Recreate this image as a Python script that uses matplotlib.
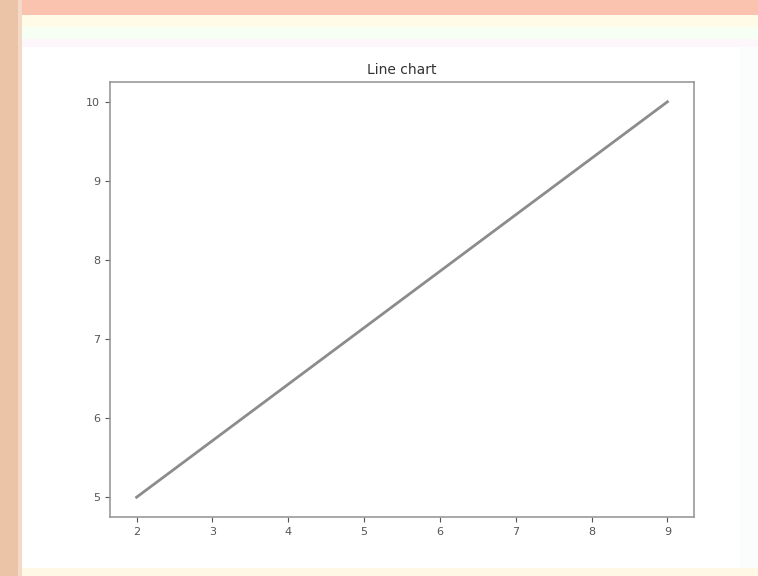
import matplotlib
matplotlib.use("Agg")
import matplotlib.pyplot as plt
from matplotlib.patches import Rectangle

# Data
x_values = [2, 9]
y_values = [5, 10]
x_ticks = [2, 3, 4, 5, 6, 7, 8, 9]
y_ticks = [5, 6, 7, 8, 9, 10]
title_text = "Line chart"

fig = plt.figure(figsize=(7.58, 5.76), dpi=100)
fig.patch.set_facecolor("white")

W, H = 758, 576
def px_rect(x0, y0, w, h, color, alpha=1.0):
    fig.patches.append(Rectangle((x0 / W, 1 - (y0 + h) / H), w / W, h / H,
                                 transform=fig.transFigure, color=color,
                                 alpha=alpha, zorder=-10, lw=0))

# Soft tinted bands and peach frame around the page
px_rect(740, 0, 18, H, "#fbfdfd")
px_rect(0, 15, W, 12, "#fffbe6")
px_rect(0, 27, W, 12, "#f6fff4")
px_rect(0, 39, W, 8, "#fdf6fb")
px_rect(0, 568, W, 8, "#fff8e4")
px_rect(0, 0, W, 15, "#f9c3b0")
px_rect(0, 0, 18, H, "#ebc4a8")
px_rect(18, 0, 4, H, "#f3d9c6")

ax = fig.add_axes([110 / W, 1 - 517 / H, (694 - 110) / W, (517 - 82) / H])
ax.plot(x_values, y_values, color="#8c8c8c", linewidth=2)
ax.set_xticks(x_ticks)
ax.set_yticks(y_ticks)
ax.set_title(title_text, fontsize=10, color="#333333")
ax.tick_params(labelsize=8, colors="#555555")
for s in ax.spines.values():
    s.set_color("#999999")
    s.set_linewidth(1.2)

fig.savefig("out.png", dpi=100)
